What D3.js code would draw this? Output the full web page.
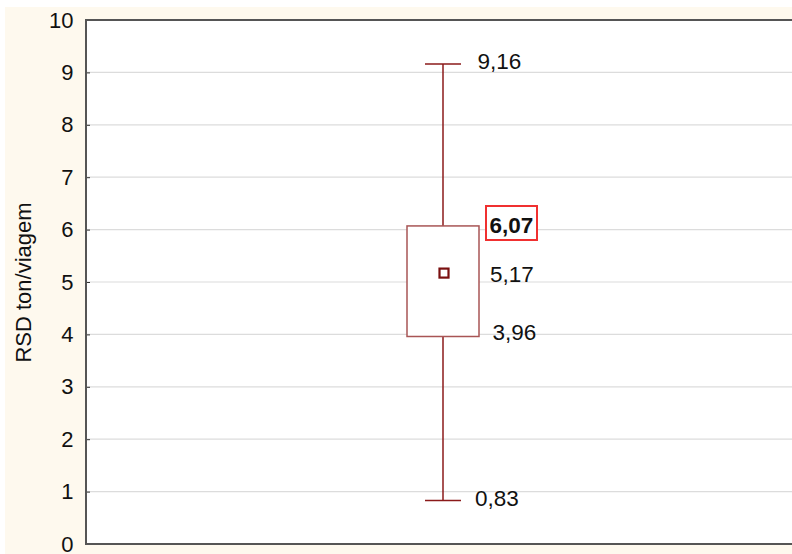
<!DOCTYPE html>
<html><head><meta charset="utf-8">
<script src="https://cdn.jsdelivr.net/npm/d3@7"></script>
<style>body{margin:0;background:#fff}svg{display:block}text{font-family:"Liberation Sans",Arial,sans-serif}</style>
</head><body>
<script>
const yTicks = [0,1,2,3,4,5,6,7,8,9,10];
const stats = {min:0.83, q1:3.96, mean:5.17, q3:6.07, max:9.16};
const labels = ["9,16","6,07","5,17","3,96","0,83"];
const yTitle = "RSD ton/viagem";

const W=792,H=554;
const svg=d3.select("body").append("svg").attr("width",W).attr("height",H);
svg.append("rect").attr("x",5).attr("y",7).attr("width",W-5).attr("height",H-7).attr("fill","#fef9ee");
const L=86,T=20,R=792,B=544;
const y=d3.scaleLinear().domain([0,10]).range([B,T]);
const x=d3.scaleLinear().domain([0,1]).range([L,R]);
svg.append("rect").attr("x",L).attr("y",T).attr("width",R-L).attr("height",B-T).attr("fill","#fff");
// grid
svg.append("g").selectAll("line").data(yTicks.slice(1,-1)).join("line")
 .attr("x1",L).attr("x2",R).attr("y1",d=>y(d)).attr("y2",d=>y(d)).attr("stroke","#dcdcdc").attr("stroke-width",1.2);
// axis
const ax=svg.append("g").attr("transform",`translate(${L},0)`).call(d3.axisLeft(y).tickValues(yTicks).tickSize(-4).tickPadding(12.5).tickFormat(d3.format("d")));
ax.select(".domain").remove();
ax.selectAll(".tick line").attr("stroke","#333");
ax.selectAll("text").attr("font-size","22px").attr("fill","#111");
// border
svg.append("path").attr("d",`M${R},${T}H${L}V${B}H${R}`).attr("fill","none").attr("stroke","#555").attr("stroke-width",2);
// title
svg.append("text").attr("transform",`translate(30.5,${282.5}) rotate(-90)`).attr("text-anchor","middle").attr("font-size","22px").attr("fill","#111").text(yTitle);
// box
const cx=443;
const bw=72, cw=36;
const wc="#8b1a1a";
svg.append("line").attr("x1",cx).attr("x2",cx).attr("y1",y(stats.max)).attr("y2",y(stats.q3)).attr("stroke",wc).attr("stroke-width",1.5);
svg.append("line").attr("x1",cx).attr("x2",cx).attr("y1",y(stats.q1)).attr("y2",y(stats.min)).attr("stroke",wc).attr("stroke-width",1.5);
[stats.max,stats.min].forEach(v=>svg.append("line").attr("x1",cx-cw/2).attr("x2",cx+cw/2).attr("y1",y(v)).attr("y2",y(v)).attr("stroke",wc).attr("stroke-width",1.5));
svg.append("rect").attr("x",cx-bw/2).attr("y",y(stats.q3)).attr("width",bw).attr("height",y(stats.q1)-y(stats.q3)).attr("fill","#fff").attr("stroke","#a85555").attr("stroke-width",1.5);
svg.append("rect").attr("x",cx+1-4.5).attr("y",y(stats.mean)-4.5).attr("width",9).attr("height",9).attr("fill","#fff").attr("stroke","#7a1010").attr("stroke-width",2.2);
// labels
const fs=22.5;
svg.append("text").attr("x",477.5).attr("y",y(stats.max)+4.5).attr("font-size",fs).attr("fill","#111").text(labels[0]);
svg.append("rect").attr("x",486).attr("y",206).attr("width",51).attr("height",34).attr("fill","#fff").attr("stroke","#f03030").attr("stroke-width",2);
svg.append("text").attr("x",489.5).attr("y",y(stats.q3)+7).attr("font-size",fs).attr("font-weight","bold").attr("fill","#111").text(labels[1]);
svg.append("text").attr("x",490).attr("y",y(stats.mean)+8.5).attr("font-size",fs).attr("fill","#111").text(labels[2]);
svg.append("text").attr("x",492.5).attr("y",y(stats.q1)+4).attr("font-size",fs).attr("fill","#111").text(labels[3]);
svg.append("text").attr("x",475).attr("y",y(stats.min)+5.5).attr("font-size",fs).attr("fill","#111").text(labels[4]);
</script>
</body></html>
